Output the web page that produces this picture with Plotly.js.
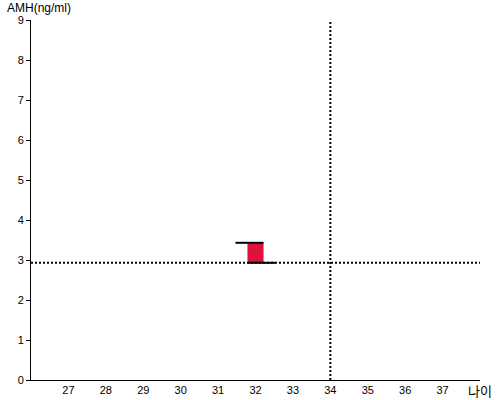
<!DOCTYPE html>
<html><head><meta charset="utf-8">
<script src="https://cdn.plot.ly/plotly-3.0.1.min.js"></script>
<style>html,body{margin:0;padding:0;background:#fff}#chart{width:500px;height:400px}</style>
</head><body><div id="chart"></div>
<script>
const ages = [32];
const amhLow = [2.93];
const amhHigh = [3.43];
const refAge = [34];
const refAmh = [2.93];
const xTicks = [27,28,29,30,31,32,33,34,35,36,37];
const yTicks = [0,1,2,3,4,5,6,7,8,9];
const xRange = [26, 38];
const yRange = [0, 9];

const boxW = 0.43;
const traces = [
  {type:'bar', x: ages, y: amhHigh.map((h,i)=>h-amhLow[i]), base: amhLow, width: boxW,
   marker:{color:'#DC143C', line:{width:0}}, hoverinfo:'none'},
  {type:'scatter', mode:'lines', x:[xRange[0], xRange[1]], y:[refAmh[0], refAmh[0]],
   line:{color:'#000', width:2, dash:'2px,2px'}, hoverinfo:'none'},
  {type:'scatter', mode:'lines', x:[refAge[0], refAge[0]], y:[yRange[0], yRange[1]],
   line:{color:'#000', width:2, dash:'2px,2px'}, hoverinfo:'none'},
  {type:'scatter', mode:'lines', x:[ages[0]-boxW/2-0.32, ages[0]+boxW/2], y:[amhHigh[0], amhHigh[0]],
   line:{color:'#000', width:2}, hoverinfo:'none'},
  {type:'scatter', mode:'lines', x:[ages[0]-boxW/2, ages[0]+boxW/2+0.32], y:[amhLow[0], amhLow[0]],
   line:{color:'#000', width:2}, hoverinfo:'none'}
];
const layout = {
  width:500, height:400,
  margin:{l:31, r:20, t:20, b:20},
  showlegend:false,
  paper_bgcolor:'#fff', plot_bgcolor:'#fff',
  font:{family:'Liberation Sans, Arial, sans-serif', size:11, color:'#000'},
  xaxis:{range:xRange, tickvals:xTicks, ticktext:xTicks.map(String), ticks:'', showgrid:false, zeroline:false,
         showline:true, linecolor:'#000', linewidth:1, tickfont:{size:11}, fixedrange:true},
  yaxis:{range:yRange, tickvals:yTicks, ticks:'outside', ticklen:4, tickcolor:'#000', showgrid:false, zeroline:false,
         showline:true, linecolor:'#000', linewidth:1, tickfont:{size:11}, fixedrange:true},
  annotations:[
    {text:'AMH(ng/ml)', xref:'paper', yref:'paper', x:-0.058, y:1.0, xanchor:'left', yanchor:'bottom', yshift:3,
     showarrow:false, font:{size:12, color:'#000'}},
    {text:'나이', xref:'paper', yref:'paper', x:1.0, y:0, xanchor:'right', yanchor:'top', xshift:14, yshift:1,
     showarrow:false, font:{size:13, color:'#000', family:'Noto Sans CJK KR'}}
  ]
};
Plotly.newPlot('chart', traces, layout, {displayModeBar:false, staticPlot:true});
</script></body></html>
